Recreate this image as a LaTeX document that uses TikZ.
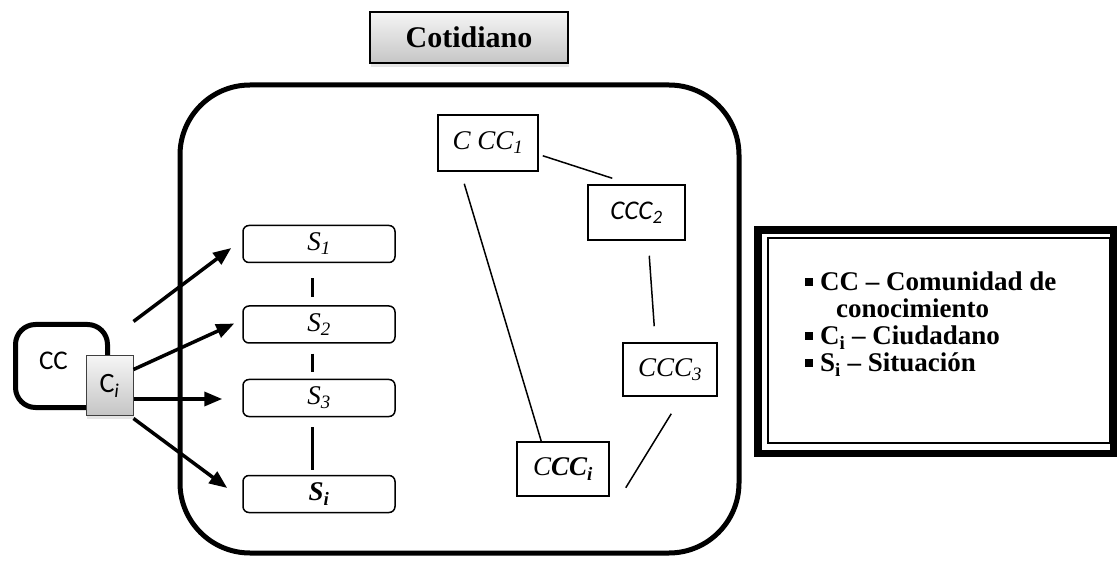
\documentclass[tikz,border=0pt]{standalone}
\usepackage{fontspec}
\setmainfont{Liberation Serif}
\newfontfamily\calfont{Carlito}
\usetikzlibrary{arrows.meta,shadows}

\newcommand\cuadro{\raisebox{0.17em}{\rule{0.3em}{0.3em}}}

\tikzset{
  sbox/.style={draw, line width=1.5pt, rounded corners=6pt, minimum width=152pt,
    minimum height=37pt, font=\itshape\fontsize{27}{27}\selectfont},
  cccbox/.style={draw, line width=1.5pt, minimum width=96pt, minimum height=55pt,
    font=\itshape\fontsize{27}{27}\selectfont},
  enlace/.style={line width=1.5pt},
  sline/.style={line width=3pt},
  flecha/.style={line width=3.5pt, -{Triangle[length=18pt,width=14pt]}},
  gris/.style={top color=gray!8, bottom color=gray!45,
    drop shadow={shadow xshift=1pt, shadow yshift=-4pt, fill=gray!40}},
}

\begin{document}
\begin{tikzpicture}[x=1pt, y=-1pt]
\useasboundingbox (0,0) rectangle (1117,561);

% Title
\node[gris, draw, line width=1.5pt, minimum width=198pt, minimum height=51pt,
    font=\bfseries\fontsize{30}{30}\selectfont] (titulo) at (469,37.5) {Cotidiano};

% Main frame
\draw[line width=5pt, rounded corners=70pt] (180,85) rectangle (739,553);

% Situations
\node[sbox] (S1) at (319,244) {S\textsubscript{1}};
\node[sbox] (S2) at (319,324.5) {S\textsubscript{2}};
\node[sbox] (S3) at (319,398) {S\textsubscript{3}};
\node[sbox] (Si) at (319,494) {\bfseries S\textsubscript{i}};

\draw[sline, shorten <=15pt, shorten >=8pt] ([xshift=-7]S1.south) -- ([xshift=-7]S2.north);
\draw[sline, shorten <=10pt, shorten >=7pt] ([xshift=-7]S2.south) -- ([xshift=-7]S3.north);
\draw[sline, shorten <=10pt, shorten >=5pt] ([xshift=-7]S3.south) -- ([xshift=-7]Si.north);

% Communities
\node[cccbox, minimum width=100pt, minimum height=56pt] (CCC1) at (488,143) {C CC\textsubscript{1}};
\node[cccbox, minimum width=97pt] (CCC2) at (636.5,212.5) {\calfont CCC\textsubscript{2}};
\node[cccbox, minimum width=94pt, minimum height=53pt] (CCC3) at (670,369.5) {CCC\textsubscript{3}};
\node[cccbox, minimum width=92pt, minimum height=54pt] (CCCi) at (563,469) {C\textbf{CC\textsubscript{i}}};

\draw[enlace] ([shift={(4,-16)}]CCC1.south east) -- ([shift={(25,-6)}]CCC2.north west);
\draw[enlace] ([shift={(27,12)}]CCC1.south west) -- ([shift={(25,0)}]CCCi.north west);
\draw[enlace] ([shift={(62,15)}]CCC2.south west) -- ([shift={(32,-16)}]CCC3.north west);
\draw[enlace] ([shift={(49,17)}]CCC3.south west) -- ([shift={(16,-9)}]CCCi.south east);

% Community and citizen
\node[draw, line width=5pt, rounded corners=20pt, minimum width=92pt, minimum height=83pt,
    font=\calfont\fontsize{27}{27}\selectfont] (CC) at (61.5,366) {\raisebox{10pt}{CC}\hspace*{16pt}};
\node[gris, draw=gray!50!black, line width=1pt, minimum width=47pt, minimum height=59pt,
    font=\calfont\fontsize{28}{28}\selectfont] (Ci) at (109.5,385.5) {C\textsubscript{\textit{i}}};

\draw[flecha] ([shift={(0,-34)}]Ci.north east) -- ([shift={(-11,4)}]S1.west);
\draw[flecha] ([shift={(0,14)}]Ci.north east) -- ([shift={(-8,-1)}]S2.west);
\draw[flecha] ([shift={(0,13.5)}]Ci.east) -- ([shift={(-20,1)}]S3.west);
\draw[flecha] ([shift={(0,3)}]Ci.south east) -- ([shift={(-15,-6)}]Si.west);

% Legend
\node[draw, line width=2pt, minimum width=342pt, minimum height=205pt] (leyenda) at (939,340.5) {};
\draw[line width=7.5pt] ([shift={(-9,-7)}]leyenda.north west) rectangle ([shift={(3,9.5)}]leyenda.south east);
\node[anchor=north west, align=left, inner sep=0pt,
    font=\bfseries\fontsize{27}{27}\selectfont] (claves) at ([shift={(38,35)}]leyenda.north west)
    {\cuadro\ CC -- Comunidad de\\
     \hspace*{31pt}conocimiento\\
     \cuadro\ C\textsubscript{i} -- Ciudadano\\
     \cuadro\ S\textsubscript{i} -- Situación};

\end{tikzpicture}
\end{document}
